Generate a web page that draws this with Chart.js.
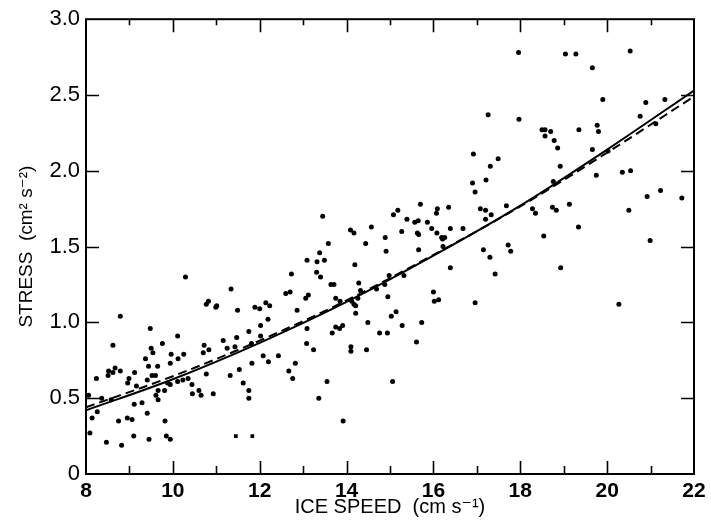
<!DOCTYPE html>
<html><head><meta charset="utf-8">
<script src="https://cdn.jsdelivr.net/npm/chart.js@4"></script>
<style>html,body{margin:0;padding:0;background:#fff;}#wrap{width:711px;height:530px;}</style>
</head><body><div id="wrap"><canvas id="c" width="711" height="530"></canvas></div>
<script>
// Scatter observations: ice speed (cm/s) and stress (cm^2 s^-2)
const speedX = [
10.29,11.34,10.77,10.82,10.99,11.01,11.49,8.79,9.48,10.11,11.47,8.62,11.16,9.76,9.50,10.72,10.83,11.25,11.43,9.54,
10.70,9.37,9.96,10.25,10.12,9.44,9.65,9.94,8.52,8.62,8.67,8.51,8.79,8.24,9.12,8.99,8.96,9.52,9.60,9.41,
10.77,11.32,11.53,9.16,9.88,9.94,10.11,10.23,10.35,10.44,9.81,9.66,9.61,9.66,10.45,10.60,10.65,10.93,8.06,8.36,
8.58,8.26,8.14,8.75,8.95,9.06,9.11,9.29,9.41,9.82,8.09,8.47,8.82,9.10,9.45,9.85,9.94,
13.45,14.09,14.17,14.57,14.89,13.58,14.44,14.91,13.38,13.09,13.32,13.49,14.19,12.73,13.31,13.40,13.64,13.71,14.28,14.98,
12.60,12.70,13.12,13.06,13.75,14.32,14.69,14.88,14.95,14.26,13.85,12.14,12.23,14.12,14.17,14.21,11.89,12.00,12.86,14.21,
12.19,12.02,13.09,13.75,13.84,13.91,13.67,14.49,14.76,14.94,11.75,12.02,11.81,13.08,13.24,14.10,14.10,14.46,12.08,12.20,
12.43,12.82,11.82,12.67,12.76,11.62,13.55,11.75,11.75,13.36,13.92,
17.26,17.97,16.92,17.49,17.31,16.90,17.21,16.96,15.70,15.08,15.18,16.09,16.07,16.35,17.08,17.20,17.33,17.68,18.28,18.35,
15.39,15.57,15.65,15.86,17.20,15.96,16.39,16.68,15.27,15.63,15.66,16.08,16.19,16.26,16.21,15.66,16.22,17.15,17.30,17.72,
17.78,16.39,17.42,15.32,16.00,16.02,16.12,16.96,15.14,15.03,15.28,15.73,15.61,15.06,
17.96,19.04,19.28,20.53,19.66,19.90,20.89,21.33,20.76,18.50,18.57,18.57,18.70,18.78,18.86,19.35,19.77,19.80,21.12,19.66,
20.02,18.92,18.76,19.75,20.35,20.54,20.92,21.23,21.72,18.74,18.83,19.13,20.50,19.34,18.54,20.99,18.93,20.27
];
const stressY = [
1.30,1.22,1.12,1.14,1.10,1.11,1.08,1.04,0.96,0.91,0.90,0.85,0.88,0.86,0.83,0.85,0.82,0.83,0.84,0.80,
0.80,0.76,0.79,0.79,0.76,0.71,0.71,0.73,0.68,0.67,0.70,0.65,0.68,0.63,0.67,0.63,0.60,0.65,0.65,0.62,
0.66,0.65,0.69,0.58,0.60,0.59,0.61,0.62,0.63,0.59,0.55,0.55,0.52,0.49,0.53,0.55,0.52,0.53,0.52,0.50,
0.49,0.41,0.37,0.35,0.37,0.36,0.46,0.47,0.40,0.35,0.27,0.21,0.19,0.25,0.23,0.25,0.23,
1.70,1.61,1.59,1.63,1.56,1.52,1.52,1.47,1.46,1.41,1.40,1.41,1.38,1.32,1.33,1.30,1.25,1.25,1.26,1.31,
1.19,1.20,1.18,1.16,1.16,1.21,1.22,1.25,1.17,1.16,1.14,1.13,1.11,1.14,1.12,1.11,1.10,1.09,1.08,1.06,
1.02,0.98,0.96,0.97,0.96,0.98,0.93,1.00,0.93,0.93,0.94,0.91,0.86,0.86,0.82,0.84,0.81,0.82,0.78,0.74,
0.78,0.73,0.73,0.68,0.63,0.60,0.61,0.55,0.50,0.50,0.35,
2.37,2.34,2.11,2.08,2.03,1.92,1.94,1.86,1.78,1.71,1.74,1.75,1.72,1.76,1.75,1.74,1.71,1.77,1.75,1.72,
1.68,1.66,1.67,1.66,1.68,1.62,1.62,1.62,1.60,1.59,1.58,1.59,1.56,1.56,1.55,1.48,1.50,1.48,1.43,1.51,
1.47,1.36,1.32,1.31,1.20,1.14,1.15,1.13,1.07,1.04,0.98,1.00,0.87,0.61,
2.78,2.77,2.77,2.79,2.68,2.47,2.45,2.47,2.36,2.27,2.27,2.23,2.26,2.20,2.15,2.27,2.30,2.26,2.31,2.14,
2.13,2.03,1.93,1.97,1.99,2.00,1.83,1.87,1.82,1.76,1.74,1.78,1.74,1.63,1.57,1.54,1.36,1.12
];
// Two observations drawn as small squares
const squareX = [11.45, 11.83];
const squareY = [0.25, 0.25];
// Fitted curves
const fitX = [8, 10, 12, 14, 16, 18, 20, 22];
const fitSolid = [0.42, 0.625, 0.865, 1.135, 1.44, 1.77, 2.14, 2.53];
const fitDashed = [0.44, 0.645, 0.88, 1.145, 1.445, 1.765, 2.12, 2.49];
// Tick labels and titles
const xTickLabels = ['8','10','12','14','16','18','20','22'];
const yTickLabels = ['0','0.5','1.0','1.5','2.0','2.5','3.0'];
const xTitle = 'ICE SPEED  (cm s\u207B\u00B9)';
const yTitle = 'STRESS  (cm\u00B2 s\u207B\u00B2)';

const FONT = "'Liberation Sans', 'DejaVu Sans', Arial, sans-serif";

const pts = speedX.map((x, i) => ({x: x, y: stressY[i]}));
const sq = squareX.map((x, i) => ({x: x, y: squareY[i]}));
const solid = fitX.map((x, i) => ({x: x, y: fitSolid[i]}));
const dashed = fitX.map((x, i) => ({x: x, y: fitDashed[i]}));

const framePlugin = {
  id: 'frame',
  afterDatasetsDraw(chart) {
    const {ctx, chartArea: a, scales} = chart;
    const xs = scales.x, ys = scales.y;
    ctx.save();
    ctx.strokeStyle = '#000';
    ctx.lineWidth = 2;
    ctx.strokeRect(a.left, a.top, a.right - a.left, a.bottom - a.top);
    ctx.lineWidth = 1.6;
    ctx.beginPath();
    for (let v = 9; v < 22; v++) {
      const px = Math.round(xs.getPixelForValue(v)) + 0.5;
      const even = v % 2 === 0;
      ctx.moveTo(px, a.bottom); ctx.lineTo(px, a.bottom - (even ? 13 : 8));
      ctx.moveTo(px, a.top); ctx.lineTo(px, a.top + (even ? 13 : 6));
    }
    for (let k = 1; k < 6; k++) {
      const py = Math.round(ys.getPixelForValue(k * 0.5)) + 0.5;
      ctx.moveTo(a.left, py); ctx.lineTo(a.left + 13, py);
      ctx.moveTo(a.right, py); ctx.lineTo(a.right - 13, py);
    }
    ctx.stroke();
    ctx.restore();
  }
};

new Chart(document.getElementById('c'), {
  type: 'scatter',
  data: {
    datasets: [
      {data: pts, pointRadius: 2.5, pointHoverRadius: 2.5, backgroundColor: '#000', borderWidth: 0, showLine: false},
      {data: sq, pointStyle: 'rect', pointRadius: 2.6, backgroundColor: '#000', borderWidth: 0, showLine: false},
      {data: solid, showLine: true, borderColor: '#000', borderWidth: 2, pointRadius: 0, cubicInterpolationMode: 'monotone', fill: false},
      {data: dashed, showLine: true, borderColor: '#000', borderWidth: 2, borderDash: [9, 5], pointRadius: 0, cubicInterpolationMode: 'monotone', fill: false}
    ]
  },
  options: {
    responsive: false,
    animation: false,
    devicePixelRatio: 1,
    layout: {padding: {left: 0, right: 17, top: 15, bottom: 0}},
    plugins: {legend: {display: false}, tooltip: {enabled: false}},
    scales: {
      x: {
        type: 'linear', min: 8, max: 22,
        grid: {display: false, drawTicks: false},
        border: {display: false},
        ticks: {
          stepSize: 2, color: '#000', padding: 5,
          font: {family: FONT, size: 21, weight: 'bold'},
          callback: (v) => { const i = (v - 8) / 2; return Number.isInteger(i) ? xTickLabels[i] : ''; }
        },
        title: {display: true, text: xTitle, color: '#000', font: {family: FONT, size: 20}, padding: {top: 0, bottom: 11}},
        afterFit: (s) => { s.height = 56; }
      },
      y: {
        type: 'linear', min: 0, max: 3,
        grid: {display: false, drawTicks: false},
        border: {display: false},
        ticks: {
          stepSize: 0.5, color: '#000', padding: 6,
          font: {family: FONT, size: 22},
          callback: (v) => yTickLabels[Math.round(v * 2)]
        },
        title: {display: true, text: yTitle, color: '#000', font: {family: FONT, size: 19}, padding: {top: 15, bottom: 0}},
        afterFit: (s) => { s.width = 86; }
      }
    }
  },
  plugins: [framePlugin]
});
</script>
</body></html>
